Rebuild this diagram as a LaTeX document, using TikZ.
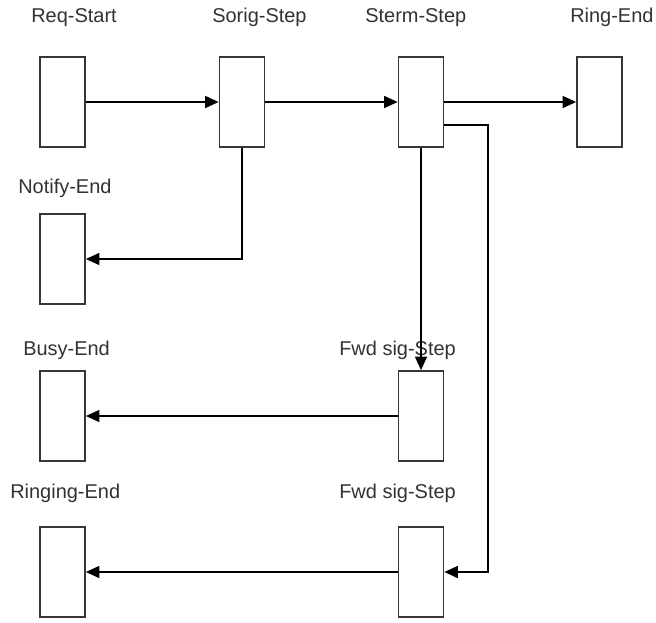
\documentclass[tikz,border=0pt]{standalone}
\usepackage{fontspec}
\setmainfont{Liberation Sans}
\usepackage{tikz}
\usetikzlibrary{
  arrows.meta,
  positioning
}
\definecolor{BoxGray}{RGB}{55, 55, 55}
\definecolor{LabelGray}{RGB}{50, 50, 50}
\tikzset{
  stepbox/.style={rectangle, draw=BoxGray, line width=1.2pt, minimum width=1.125cm, minimum height=2.25cm, inner sep=0pt},
  steplabel/.style={anchor=base west, inner sep=0pt, text=LabelGray, font=\fontsize{14.2}{17}\selectfont},
  link/.style={draw=black, line width=1.3pt, -{Triangle[length=0.34cm, width=0.3cm]}}
}

\begin{document}
\begin{tikzpicture}
            \useasboundingbox (0,0) rectangle (16.4,-15.55);
            \node[stepbox] (reqstart) at (1.5625,-2.55) {};
            \node[stepbox] (sorig) at (6.05,-2.55) {};
            \node[stepbox] (sterm) at (10.525,-2.55) {};
            \node[stepbox] (ringend) at (14.9875,-2.55) {};
            \node[stepbox] (notifyend) at (1.5625,-6.475) {};
            \node[stepbox] (busyend) at (1.5625,-10.4) {};
            \node[stepbox] (fwdsig) at (10.525,-10.4) {};
            \node[stepbox] (ringingend) at (1.5625,-14.3) {};
            \node[stepbox] (fwdsigb) at (10.525,-14.3) {};

            \node[steplabel] (reqstartlbl) at (0.775,-0.5625) {Req-Start};
            \node[steplabel] (sorixlbl) at (5.3,-0.5625) {Sorig-Step};
            \node[steplabel] (stermlbl) at (9.125,-0.5625) {Sterm-Step};
            \node[steplabel] (ringendlbl) at (14.25,-0.5625) {Ring-End};
            \node[steplabel] (notifyendlbl) at (0.45,-4.825) {Notify-End};
            \node[steplabel] (busyendlbl) at (0.575,-8.875) {Busy-End};
            \node[steplabel] (fwdsiglbl) at (8.475,-8.875) {Fwd sig-Step};
            \node[steplabel] (ringingendlbl) at (0.25,-12.45) {Ringing-End};
            \node[steplabel] (fwdsigblbl) at (8.475,-12.45) {Fwd sig-Step};

            \coordinate (termbend) at (12.2,-3.125);

            \draw[link] (reqstart) -- (sorig);
            \draw[link] (sorig) -- (sterm);
            \draw[link] (sterm) -- (ringend);
            \draw[link] (sorig.south) |- (notifyend.east);
            \draw[link] (sterm.south) -- (fwdsig.north);
            \draw[link] (sterm.east |- termbend) -- (termbend) |- (fwdsigb.east);
            \draw[link] (fwdsig) -- (busyend);
            \draw[link] (fwdsigb) -- (ringingend);
        \end{tikzpicture}
\end{document}
